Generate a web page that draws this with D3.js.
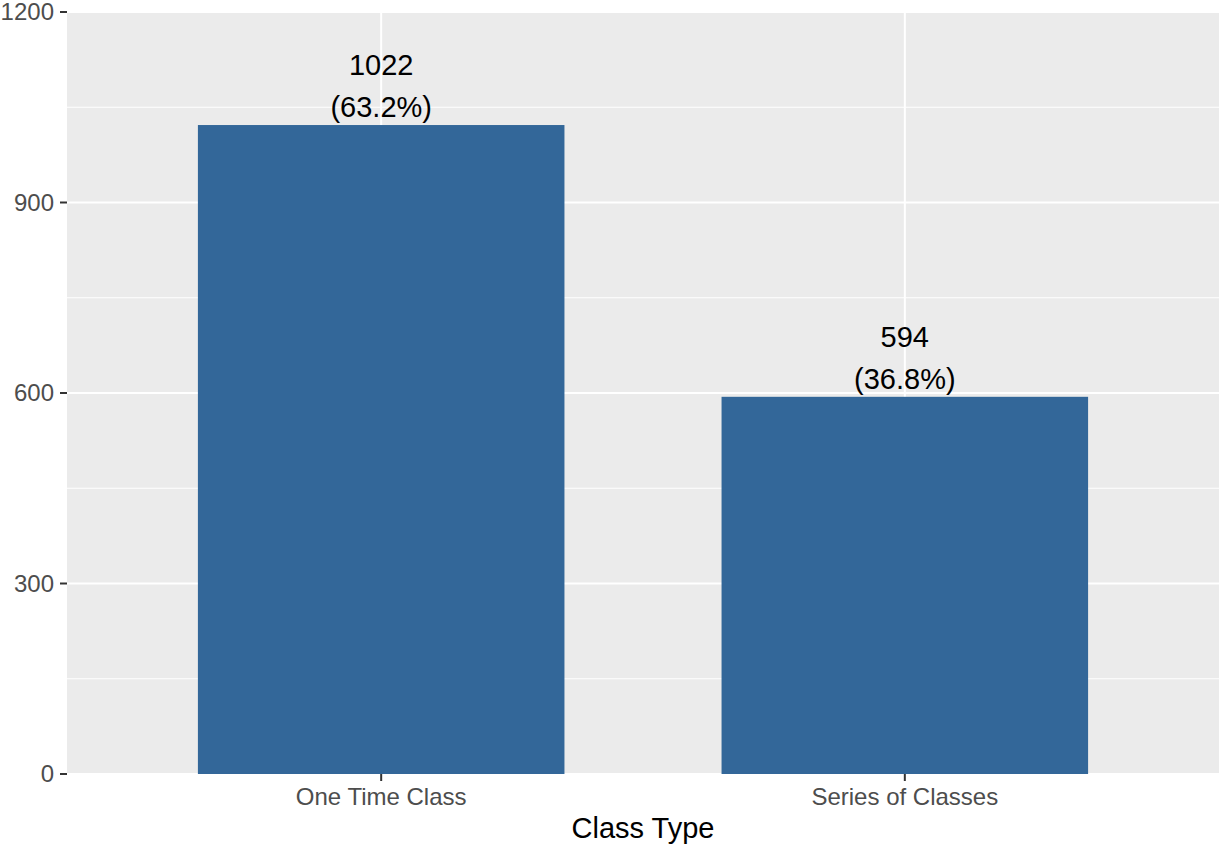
<!DOCTYPE html>
<html lang="en">
<head>
<meta charset="UTF-8">
<title>Class Type</title>
<script src="https://d3js.org/d3.v7.min.js"></script>
<style>
    html, body { margin: 0; height: 100%; overflow: hidden; background: #fff; }
    text { font-family: "Liberation Sans", Arial, sans-serif; }
</style>
</head>
<body>
<svg id="svg"></svg>
<script>
    // data
    const categories = ['One Time Class', 'Series of Classes'];
    const counts = [1022, 594];
    const percents = ['63.2%', '36.8%'];
    const yTicks = [0, 300, 600, 900, 1200];
    const yMinor = [150, 450, 750, 1050];

    const width = 1220, height = 846;
    const svg = d3.select('#svg').attr('width', width).attr('height', height);

    const margin = { top: 12, right: 1, bottom: 72, left: 67 };
    const x0 = margin.left, x1 = width - margin.right;
    const y0 = height - margin.bottom, y1 = margin.top;

    // ggplot style discrete axis: 0.6 expansion each side, bar width 0.7
    const x = d3.scaleLinear().domain([0.4, categories.length + 0.6]).range([x0, x1]);
    const y = d3.scaleLinear().domain([0, 1200]).range([y0, y1]);
    const unit = x(2) - x(1);

    svg.append('rect')
        .attr('x', x0).attr('y', y1)
        .attr('width', x1 - x0).attr('height', y0 - y1)
        .attr('fill', '#EBEBEB');

    const grid = svg.append('g');
    grid.selectAll('.minor').data(yMinor).join('line')
        .attr('x1', x0).attr('x2', x1)
        .attr('y1', d => y(d)).attr('y2', d => y(d))
        .attr('stroke', '#fff').attr('stroke-width', 1);
    grid.selectAll('.major').data(yTicks).join('line')
        .attr('x1', x0).attr('x2', x1)
        .attr('y1', d => y(d)).attr('y2', d => y(d))
        .attr('stroke', '#fff').attr('stroke-width', 2);
    grid.selectAll('.vmajor').data(categories).join('line')
        .attr('x1', (d, i) => x(i + 1)).attr('x2', (d, i) => x(i + 1))
        .attr('y1', y0).attr('y2', y1)
        .attr('stroke', '#fff').attr('stroke-width', 2);

    // bars
    svg.selectAll('.bar').data(counts).join('rect')
        .attr('class', 'bar')
        .attr('x', (d, i) => x(i + 1) - unit * 0.35)
        .attr('width', unit * 0.7)
        .attr('y', d => y(d))
        .attr('height', d => y(0) - y(d))
        .attr('fill', '#336799');

    // labels above bars
    const lab = svg.selectAll('.lab').data(counts).join('text')
        .attr('text-anchor', 'middle')
        .attr('font-size', 29)
        .attr('fill', '#000');
    lab.append('tspan')
        .attr('x', (d, i) => x(i + 1))
        .attr('y', d => y(d) - 50)
        .text(d => d);
    lab.append('tspan')
        .attr('x', (d, i) => x(i + 1))
        .attr('y', d => y(d) - 8)
        .text((d, i) => `(${percents[i]})`);

    // y axis
    const yAxis = svg.append('g');
    yAxis.selectAll('line').data(yTicks).join('line')
        .attr('x1', x0 - 7).attr('x2', x0)
        .attr('y1', d => y(d)).attr('y2', d => y(d))
        .attr('stroke', '#333').attr('stroke-width', 2);
    yAxis.selectAll('text').data(yTicks).join('text')
        .attr('x', x0 - 13)
        .attr('y', d => y(d))
        .attr('dy', '0.35em')
        .attr('text-anchor', 'end')
        .attr('font-size', 24)
        .attr('fill', '#4D4D4D')
        .text(d => d);

    // x axis
    const xAxis = svg.append('g');
    xAxis.selectAll('line').data(categories).join('line')
        .attr('x1', (d, i) => x(i + 1)).attr('x2', (d, i) => x(i + 1))
        .attr('y1', y0).attr('y2', y0 + 7)
        .attr('stroke', '#333').attr('stroke-width', 2);
    xAxis.selectAll('text').data(categories).join('text')
        .attr('x', (d, i) => x(i + 1))
        .attr('y', y0 + 31)
        .attr('text-anchor', 'middle')
        .attr('font-size', 24)
        .attr('fill', '#4D4D4D')
        .text(d => d);

    svg.append('text')
        .attr('x', (x0 + x1) / 2)
        .attr('y', height - 8)
        .attr('text-anchor', 'middle')
        .attr('font-size', 29)
        .attr('fill', '#000')
        .text('Class Type');
</script>
</body>
</html>
